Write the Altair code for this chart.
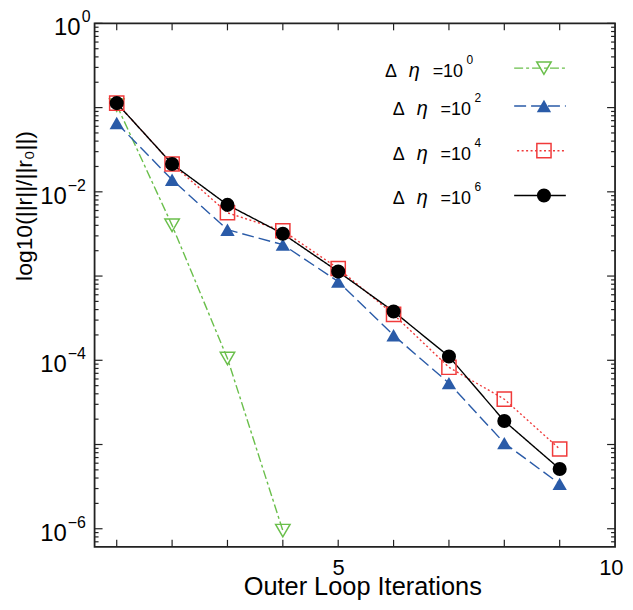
import altair as alt
import pandas as pd

FONT = "Liberation Sans"

# ---------------- data ----------------
iterations = [1, 2, 3, 4, 5, 6, 7, 8, 9]
res_eta0 = [0.107, 0.0040, 1.05e-4, 9.5e-7]
res_eta2 = [0.0656, 0.0139, 0.00355, 0.00236, 8.6e-4, 1.98e-4, 5.35e-5, 1.04e-5, 3.41e-6]
res_eta4 = [0.113, 0.0214, 0.00564, 0.00345, 0.00123, 3.50e-4, 8.26e-5, 3.45e-5, 8.85e-6]
res_eta6 = [0.113, 0.0214, 0.0070, 0.00318, 0.00113, 3.80e-4, 1.11e-4, 1.90e-5, 5.13e-6]
series_names = ["eta0", "eta2", "eta4", "eta6"]
series_exponents = ["0", "2", "4", "6"]
y_label_values = [1, 1e-2, 1e-4, 1e-6]
y_label_exponents = ["0", "\u22122", "\u22124", "\u22126"]
x_label_values = [5, 10]
x_tick_values = [1, 2, 3, 4, 5, 6, 7, 8, 9]

# ---------------- styles ----------------
colors = ["#6abf4b", "#2a5ba8", "#f03a3a", "#000000"]
dashes = [[9, 3, 3, 3], [12, 5], [2, 2.5], [1, 0]]
shapes = ["triangle-down", "triangle-up", "square", "circle"]
sizes = [210, 200, 110, 75]

W, H = 523, 526
xs = alt.Scale(domain=[0.6, 10], nice=False, zero=False)
ys = alt.Scale(type="log", domain=[6.1e-7, 1], nice=False)

rows = []
for name, vals in zip(series_names, [res_eta0, res_eta2, res_eta4, res_eta6]):
    for it, v in zip(iterations, vals):
        rows.append({"series": name, "it": it, "r": v})
df = pd.DataFrame(rows)

color_enc = alt.Color("series:N", scale=alt.Scale(domain=series_names, range=colors), legend=None)
dash_enc = alt.StrokeDash("series:N", scale=alt.Scale(domain=series_names, range=dashes), legend=None)
shape_enc = alt.Shape("series:N", scale=alt.Scale(domain=series_names, range=shapes), legend=None)
size_enc = alt.Size("series:N", scale=alt.Scale(domain=series_names, range=sizes), legend=None)

x_axis = alt.Axis(values=x_label_values, format="d", ticks=False, domain=False, grid=False,
                  labelFontSize=22, labelFont=FONT, labelColor="black", labelPadding=11,
                  labelFlush=True, labelFlushOffset=8,
                  title="Outer Loop Iterations", titleFont=FONT, titleFontSize=25.5,
                  titleFontWeight="normal", titleColor="black", titleX=269, titleY=48,
                  titleBaseline="alphabetic", titleAlign="center")
y_axis = alt.Axis(labels=False, ticks=False, domain=False, grid=False,
                  title="log10(||r||/||r\u2080||)", titleFont=FONT, titleFontSize=23,
                  titleFontWeight="normal", titleColor="black", titleAngle=270,
                  titleX=-63, titleY=183, titleBaseline="alphabetic", titleAlign="center")


def X(field):
    return alt.X(field, scale=xs, axis=x_axis)


def Y(field):
    return alt.Y(field, scale=ys, axis=y_axis)


lines = alt.Chart(df).mark_line(strokeWidth=1.4).encode(
    x=X("it:Q"), y=Y("r:Q"), color=color_enc, strokeDash=dash_enc,
)
open_pts = alt.Chart(df).transform_filter(
    alt.FieldOneOfPredicate(field="series", oneOf=["eta0", "eta4"])
).mark_point(filled=False, strokeWidth=1.5, opacity=1).encode(
    x=X("it:Q"), y=Y("r:Q"), color=color_enc, shape=shape_enc, size=size_enc,
)
filled_pts = alt.Chart(df).transform_filter(
    alt.FieldOneOfPredicate(field="series", oneOf=["eta2", "eta6"])
).mark_point(filled=True, opacity=1).encode(
    x=X("it:Q"), y=Y("r:Q"), color=color_enc, shape=shape_enc, size=size_enc,
)

# ---------------- inward ticks (all four sides) ----------------
major_y = [10.0 ** e for e in range(0, -7, -1)]
minor_y = [k * 10.0 ** e for e in range(-7, 0) for k in range(2, 10) if k * 10.0 ** e >= 6.1e-7]
ymaj = pd.DataFrame({"v": major_y})
ymin = pd.DataFrame({"v": minor_y})
xt = pd.DataFrame({"v": x_tick_values})
TC = "#222222"


def yticks(data, length, right=False):
    x0, x1 = (W - length, W) if right else (0, length)
    return alt.Chart(data).mark_rule(color=TC, strokeWidth=1.2).encode(
        y=Y("v:Q"), x=alt.value(x0), x2=alt.value(x1))


def xticks(data, length, top=False):
    y0, y1 = (0, length) if top else (H - length, H)
    return alt.Chart(data).mark_rule(color=TC, strokeWidth=1.2).encode(
        x=X("v:Q"), y=alt.value(y0), y2=alt.value(y1))


ticks = [yticks(ymaj, 8), yticks(ymin, 4), yticks(ymaj, 8, True), yticks(ymin, 4, True),
         xticks(xt, 7), xticks(xt, 7, True)]

# ---------------- y tick labels with superscripts ----------------
ylab = pd.DataFrame({"v": y_label_values, "ex": y_label_exponents})
is_top = alt.datum.v == 1
ylab_layers = []
for pred, tx, ex in [(is_top, -14, -13), (~is_top, -28, -27)]:
    base = alt.Chart(ylab).transform_filter(pred)
    ylab_layers.append(base.mark_text(text="10", align="right", baseline="alphabetic",
                                      fontSize=24, font=FONT, dy=12, color="black").encode(
        y=Y("v:Q"), x=alt.value(tx)))
    ylab_layers.append(base.mark_text(align="left", baseline="alphabetic", fontSize=16,
                                      font=FONT, dy=-1, color="black").encode(
        y=Y("v:Q"), x=alt.value(ex), text="ex:N"))

# ---------------- legend (placed in data coordinates) ----------------
leg = pd.DataFrame({
    "series": series_names,
    "exp": series_exponents,
    "lx": [5.843, 5.987, 5.987, 5.987],
    "ly": [0.2941, 0.1046, 0.03079, 0.009052],
    "x1": [8.178, 8.178, 8.232, 8.178],
    "x2": [9.111, 9.111, 9.111, 9.111],
    "xm": [8.716, 8.716, 8.716, 8.716],
})
leg_line = alt.Chart(leg).mark_rule(strokeWidth=1.4).encode(
    x=X("x1:Q"), x2="x2:Q", y=Y("ly:Q"), color=color_enc, strokeDash=dash_enc)
leg_open = alt.Chart(leg).transform_filter(
    alt.FieldOneOfPredicate(field="series", oneOf=["eta0", "eta4"])
).mark_point(filled=False, strokeWidth=1.5, opacity=1).encode(
    x=X("xm:Q"), y=Y("ly:Q"), color=color_enc, shape=shape_enc, size=size_enc)
leg_fill = alt.Chart(leg).transform_filter(
    alt.FieldOneOfPredicate(field="series", oneOf=["eta2", "eta6"])
).mark_point(filled=True, opacity=1).encode(
    x=X("xm:Q"), y=Y("ly:Q"), color=color_enc, shape=shape_enc, size=size_enc)
tbase = alt.Chart(leg)
txt_kw = dict(align="left", baseline="alphabetic", font=FONT, color="black")
leg_delta = tbase.mark_text(text="\u0394", fontSize=18, dy=9, **txt_kw).encode(
    x=X("lx:Q"), y=Y("ly:Q"))
leg_eta = tbase.mark_text(text="\u03b7", fontSize=20, fontStyle="italic", dx=24, dy=9, **txt_kw).encode(
    x=X("lx:Q"), y=Y("ly:Q"))
leg_eq = tbase.mark_text(text="=10", fontSize=18, dx=48, dy=9, **txt_kw).encode(
    x=X("lx:Q"), y=Y("ly:Q"))
leg_exp = tbase.mark_text(fontSize=12, dx=82, dy=-4, **txt_kw).encode(
    x=X("lx:Q"), y=Y("ly:Q"), text="exp:N")

chart = alt.layer(
    lines, *ticks, open_pts, filled_pts, *ylab_layers,
    leg_line, leg_open, leg_fill, leg_delta, leg_eta, leg_eq, leg_exp,
).properties(
    width=W, height=H,
    padding={"left": 87, "top": 14, "right": 10, "bottom": 54},
    autosize=alt.AutoSizeParams(type="none"),
    background="white",
).configure_view(stroke="#222222", strokeWidth=1.8)

chart.save("out.html", embed_options={"renderer": "svg", "actions": False})
